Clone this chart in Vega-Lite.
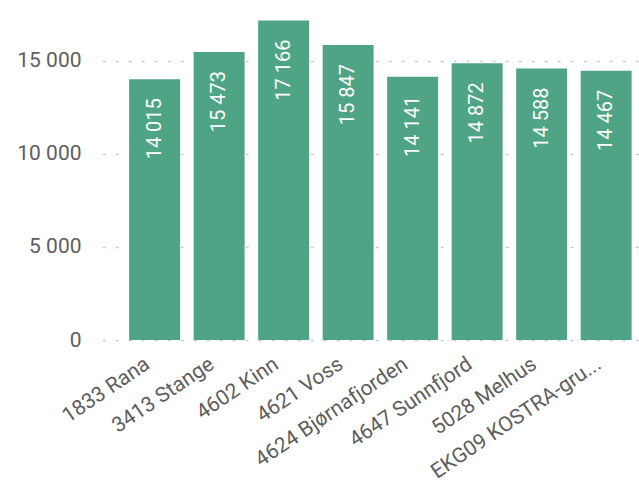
{
  "$schema": "https://vega.github.io/schema/vega-lite/v6.json",
  "autosize": "none",
  "width": 536,
  "height": 335,
  "padding": {"left": 103, "top": 5, "right": 0, "bottom": 147},
  "background": "white",
  "config": {
    "view": {"stroke": null},
    "locale": {"number": {"decimal": ",", "thousands": " ", "grouping": [3], "currency": ["", ""]}},
    "font": "Roboto"
  },
  "data": {
    "values": [
      {"kommune": "1833 Rana", "verdi": 14015},
      {"kommune": "3413 Stange", "verdi": 15473},
      {"kommune": "4602 Kinn", "verdi": 17166},
      {"kommune": "4621 Voss", "verdi": 15847},
      {"kommune": "4624 Bjørnafjorden", "verdi": 14141},
      {"kommune": "4647 Sunnfjord", "verdi": 14872},
      {"kommune": "5028 Melhus", "verdi": 14588},
      {"kommune": "EKG09 KOSTRA-gru...", "verdi": 14467}
    ]
  },
  "encoding": {
    "x": {
      "field": "kommune",
      "type": "nominal",
      "sort": null,
      "title": null,
      "scale": {"paddingInner": 0.21, "paddingOuter": 0.26, "align": 0.78},
      "axis": {
        "domain": false,
        "ticks": false,
        "labelAngle": -34,
        "labelAlign": "right",
        "labelBaseline": "middle",
        "labelPadding": 22,
        "labelOffset": -7,
        "labelFont": "Roboto",
        "labelFontSize": 21,
        "labelColor": "#605E5C",
        "labelLimit": 300
      }
    },
    "y": {
      "field": "verdi",
      "type": "quantitative",
      "title": null,
      "scale": {"domain": [0, 18000], "nice": false},
      "axis": {
        "values": [0, 5000, 10000, 15000],
        "labelExpr": "format(datum.value, ',.0f')",
        "domain": false,
        "ticks": false,
        "labelPadding": 22,
        "labelFont": "Roboto",
        "labelFontSize": 21,
        "labelColor": "#605E5C",
        "labelBaseline": "middle",
        "grid": true,
        "gridColor": "#C8C6C4",
        "gridDash": [1.5, 11.5],
        "gridWidth": 1.5,
        "gridCap": "round"
      }
    }
  },
  "layer": [
    {"mark": {"type": "bar", "color": "#4EA484"}},
    {
      "mark": {
        "type": "text",
        "angle": -90,
        "align": "right",
        "baseline": "middle",
        "dx": -19,
        "color": "white",
        "font": "Roboto",
        "fontSize": 20
      },
      "encoding": {
        "text": {"field": "verdi", "type": "quantitative", "format": ","}
      }
    }
  ]
}
